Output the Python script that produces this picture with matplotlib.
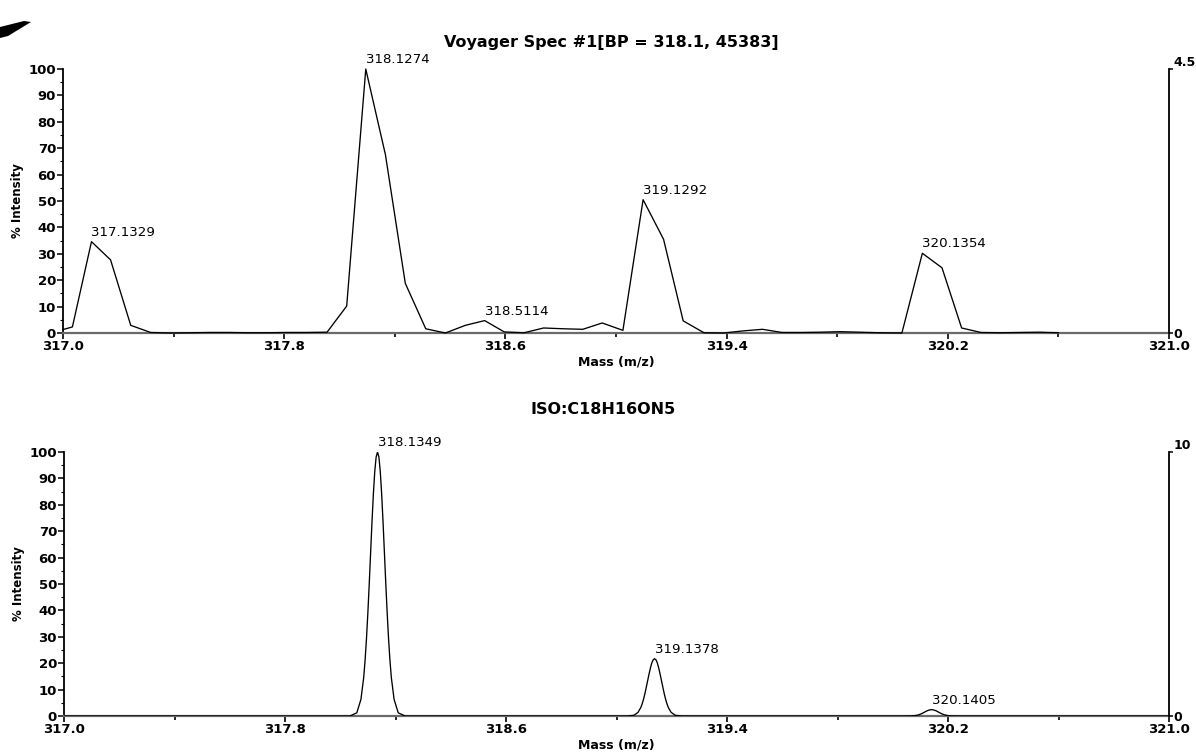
import matplotlib
matplotlib.use("Agg")
import matplotlib.pyplot as plt
from matplotlib.ticker import FixedLocator, MultipleLocator
from matplotlib.patches import Polygon

# ---- Measured spectrum (Voyager Spec #1), profile points: m/z, % intensity ----
measured_mz = [
    317.000, 317.034, 317.103, 317.172, 317.245, 317.317, 317.390, 317.460,
    317.530, 317.600, 317.670, 317.740, 317.810, 317.880, 317.955,
    318.026, 318.095, 318.166, 318.238, 318.312, 318.383, 318.455, 318.525,
    318.596, 318.668, 318.738, 318.810, 318.880, 318.950, 319.025,
    319.098, 319.172, 319.243, 319.318, 319.390, 319.460, 319.530, 319.600,
    319.670, 319.740, 319.810, 319.880, 319.950, 320.034,
    320.108, 320.179, 320.250, 320.320, 320.390, 320.460, 320.530, 320.600,
]
measured_pct = [
    1.3, 2.3, 34.6, 27.7, 2.9, 0.2, 0.0, 0.1,
    0.2, 0.2, 0.1, 0.1, 0.2, 0.2, 0.3,
    10.2, 100.0, 67.6, 18.8, 1.6, 0.0, 2.9, 4.7,
    0.4, 0.1, 1.9, 1.6, 1.4, 3.8, 1.0,
    50.5, 35.5, 4.6, 0.1, 0.0, 0.8, 1.4, 0.2,
    0.2, 0.3, 0.5, 0.3, 0.1, 0.0,
    30.2, 24.7, 1.9, 0.2, 0.1, 0.2, 0.3, 0.1,
]
measured_labels = ["317.1329", "318.1274", "318.5114", "319.1292", "320.1354"]

# ---- Theoretical isotope pattern ISO:C18H16ON5 ----
iso_centers = [318.1349, 319.1378, 320.1405]
iso_labels = ["318.1349", "319.1378", "320.1405"]
iso_offsets = [
    -0.100, -0.075, -0.060, -0.050, -0.045, -0.040, -0.035, -0.030, -0.025,
    -0.020, -0.015, -0.010, -0.005, 0.000, 0.005, 0.010, 0.015, 0.020,
    0.025, 0.030, 0.035, 0.040, 0.045, 0.050, 0.060, 0.075, 0.100,
]
iso_peak1 = [0.0, 1.2, 6.3, 14.6, 21.1, 29.2, 39.0, 50.0, 61.8, 73.5, 84.1, 92.6, 98.1,
             100.0, 98.1, 92.6, 84.1, 73.5, 61.8, 50.0, 39.0, 29.2, 21.1, 14.6, 6.3, 1.2, 0.0]
iso_peak2 = [0.0, 0.26, 1.37, 3.17, 4.58, 6.34, 8.46, 10.9, 13.4, 15.9, 18.2, 20.1, 21.3,
             21.7, 21.3, 20.1, 18.2, 15.9, 13.4, 10.9, 8.46, 6.34, 4.58, 3.17, 1.37, 0.26, 0.0]
iso_peak3 = [0.0, 0.03, 0.15, 0.35, 0.51, 0.70, 0.94, 1.20, 1.48, 1.76, 2.02, 2.22, 2.35,
             2.4, 2.35, 2.22, 2.02, 1.76, 1.48, 1.20, 0.94, 0.70, 0.51, 0.35, 0.15, 0.03, 0.0]

x_major = [317.0, 317.8, 318.6, 319.4, 320.2, 321.0]
x_major_labels = ["317.0", "317.8", "318.6", "319.4", "320.2", "321.0"]
x_minor = [317.4, 318.2, 319.0, 319.8, 320.6]
y_ticks = [0, 10, 20, 30, 40, 50, 60, 70, 80, 90, 100]

FONT = "DejaVu Sans"
plt.rcParams["font.family"] = [FONT]

W, H = 1196, 754
fig = plt.figure(figsize=(W / 100, H / 100), dpi=100)
fig.patch.set_facecolor("white")


def px_axes(x0, x1, y_top, y_bottom):
    return fig.add_axes([x0 / W, 1 - y_bottom / H, (x1 - x0) / W, (y_bottom - y_top) / H])


def style_axes(ax):
    ax.set_xlim(317.0, 321.0)
    ax.set_ylim(0, 100)
    for s in ("top", "right"):
        ax.spines[s].set_visible(False)
    ax.spines["left"].set_linewidth(1.3)
    ax.spines["bottom"].set_linewidth(1.6)
    ax.spines["bottom"].set_color("#6a6a6a")
    ax.xaxis.set_major_locator(FixedLocator(x_major))
    ax.set_xticklabels(x_major_labels)
    ax.xaxis.set_minor_locator(FixedLocator(x_minor))
    ax.yaxis.set_major_locator(FixedLocator(y_ticks))
    ax.yaxis.set_minor_locator(MultipleLocator(5))
    ax.tick_params(axis="x", which="major", direction="out", length=4, width=1.2,
                   pad=1, labelsize=9.5, color="black")
    ax.tick_params(axis="x", which="minor", direction="out", length=3, width=1.2, color="black")
    ax.tick_params(axis="y", which="major", direction="out", length=4, width=1.1,
                   pad=1, labelsize=9.5)
    ax.tick_params(axis="y", which="minor", direction="out", length=2, width=0.8)
    for lab in ax.get_xticklabels() + ax.get_yticklabels():
        lab.set_fontweight("bold")
    ax.set_ylabel("% Intensity", fontsize=8.5, fontweight="bold")
    ax.set_xlabel("Mass (m/z)", fontsize=9, fontweight="bold")
    ax.xaxis.label.set_va("center")
    ax.yaxis.label.set_va("center")
    ax.xaxis.set_label_coords(0.5, -0.11)
    ax.yaxis.set_label_coords(-0.041, 0.5)


def right_scale(ax, top_value, top_label):
    tw = ax.twinx()
    tw.set_ylim(0, top_value)
    for s in ("top", "left", "bottom"):
        tw.spines[s].set_visible(False)
    tw.spines["right"].set_linewidth(1.3)
    tw.set_yticks([0, top_value])
    tw.set_yticklabels(["0", top_label])
    tw.tick_params(axis="y", direction="out", length=3, width=1.1, pad=0.5, labelsize=9)
    labs = tw.get_yticklabels()
    for lab in labs:
        lab.set_fontweight("bold")
    labs[1].set_va("bottom")
    return tw


# ---------------- measured spectrum ----------------
ax1 = px_axes(63, 1169, 69, 333)
style_axes(ax1)
ax1.plot(measured_mz, measured_pct, color="black", lw=0.95, clip_on=False, zorder=3)
right_scale(ax1, 4.5, "4.5")

# label each peak at its local maximum near the reported centroid
for text in measured_labels:
    c = float(text)
    cand = [(p, m) for m, p in zip(measured_mz, measured_pct) if abs(m - c) <= 0.08]
    p_max, m_max = max(cand)
    ax1.annotate(text, xy=(m_max, p_max), xytext=(0, 2), textcoords="offset points",
                 ha="left", va="bottom", fontsize=9.6, annotation_clip=False)

# ---------------- theoretical isotope pattern ----------------
iso_mz = [317.0]
iso_pct = [0.0]
for c, vals in zip(iso_centers, [iso_peak1, iso_peak2, iso_peak3]):
    iso_mz += [c + o for o in iso_offsets]
    iso_pct += vals
iso_mz.append(321.0)
iso_pct.append(0.0)

ax2 = px_axes(64, 1169, 452, 716)
style_axes(ax2)
ax2.plot(iso_mz, iso_pct, color="black", lw=0.95, zorder=3)
right_scale(ax2, 10, "10")

for text, c, vals in zip(iso_labels, iso_centers, [iso_peak1, iso_peak2, iso_peak3]):
    ax2.annotate(text, xy=(c, max(vals)), xytext=(0, 2), textcoords="offset points",
                 ha="left", va="bottom", fontsize=9.6, annotation_clip=False)

# ---------------- titles ----------------
fig.text(611 / W, 1 - 42 / H, "Voyager Spec #1[BP = 318.1, 45383]",
         ha="center", va="center", fontsize=11.5, fontweight="bold")
fig.text(603 / W, 1 - 409 / H, "ISO:C18H16ON5",
         ha="center", va="center", fontsize=11.5, fontweight="bold")

# ink smear in the top-left corner of the sheet
fig.patches.append(Polygon([(0, 1 - 27 / H), (24 / W, 1 - 21 / H), (31 / W, 1 - 22 / H),
                            (8 / W, 1 - 36 / H), (0, 1 - 38 / H)],
                           closed=True, transform=fig.transFigure,
                           facecolor="black", edgecolor="none"))

fig.savefig("out.png", dpi=100, facecolor="white")
